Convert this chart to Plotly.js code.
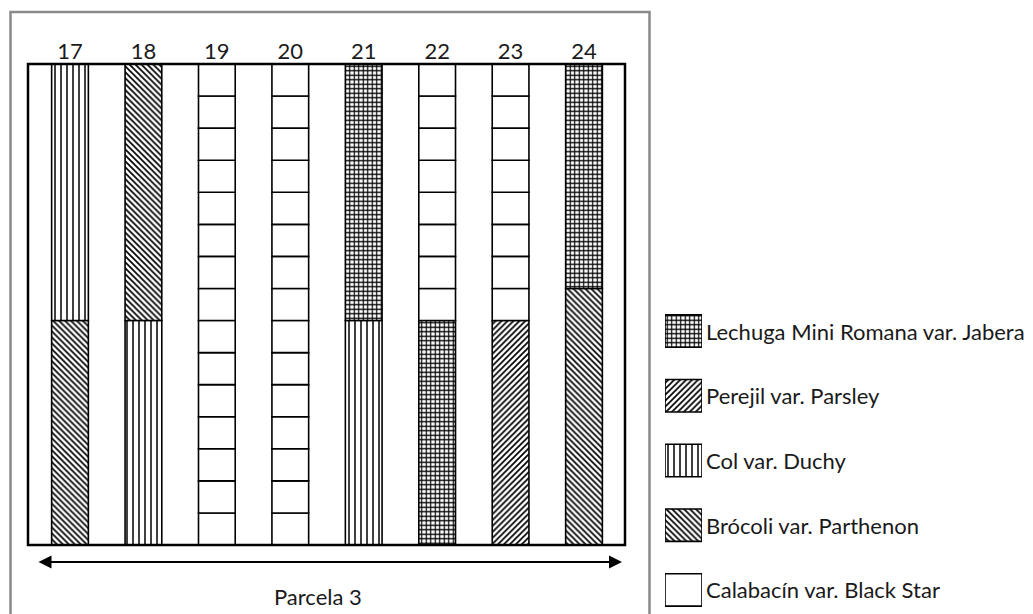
<!DOCTYPE html>
<html><head><meta charset="utf-8">
<script src="https://cdn.plot.ly/plotly-3.0.1.min.js"></script>
<style>html,body{margin:0;padding:0;background:#fff}#chart{width:1033px;height:614px}</style>
</head><body><div id="chart"></div>
<script>
// ---- data ----
const plots = ['17','18','19','20','21','22','23','24'];
const crops = ['Lechuga Mini Romana var. Jabera','Perejil var. Parsley','Col var. Duchy','Brócoli var. Parthenon','Calabacín var. Black Star'];
const lowerCrop = ['Brócoli var. Parthenon','Col var. Duchy','Calabacín var. Black Star','Calabacín var. Black Star','Col var. Duchy','Lechuga Mini Romana var. Jabera','Perejil var. Parsley','Brócoli var. Parthenon'];
const lowerRows = [7,7,15,15,7,7,7,8];
const upperCrop = ['Col var. Duchy','Brócoli var. Parthenon',null,null,'Lechuga Mini Romana var. Jabera','Calabacín var. Black Star','Calabacín var. Black Star','Lechuga Mini Romana var. Jabera'];
const upperRows = [8,8,0,0,8,8,8,7];
const plotTitle = 'Parcela 3';

// ---- styling ----
const W = 1033, H = 614;
const px = v => v / W, py = v => 1 - v / H;
const FONT = 'Lato, "Open Sans", sans-serif';
const FS = 22;
const style = {
  'Lechuga Mini Romana var. Jabera': {shape: '+', size: 4.5, sol: 0.45},
  'Perejil var. Parsley': {shape: '/', size: 4.2, sol: 0.4},
  'Col var. Duchy': {shape: '|', size: 6, sol: 0.25},
  'Brócoli var. Parthenon': {shape: '\\', size: 4.2, sol: 0.4},
  'Calabacín var. Black Star': {shape: '', size: 8, sol: 0.3}
};
const CELLED = 'Calabacín var. Black Star';

const sx = [], sy = [], sb = [], sShape = [], sSize = [], sSol = [];
plots.forEach((p, i) => {
  let base = 0;
  [[lowerCrop[i], lowerRows[i]], [upperCrop[i], upperRows[i]]].forEach(([c, n]) => {
    if (!c || !n) return;
    const parts = c === CELLED ? Array(n).fill(1) : [n];
    parts.forEach(h => {
      sx.push(p); sy.push(h); sb.push(base);
      sShape.push(style[c].shape); sSize.push(style[c].size); sSol.push(style[c].sol);
      base += h;
    });
  });
});

const mainTrace = {
  type: 'bar', x: sx, y: sy, base: sb, width: 0.5, xaxis: 'x', yaxis: 'y',
  hoverinfo: 'skip', showlegend: false,
  marker: {color: 'white', line: {color: 'black', width: 1.6},
    pattern: {shape: sShape, size: sSize, solidity: sSol, fgcolor: 'black', bgcolor: 'white', fillmode: 'replace'}}
};
const legTrace = {
  type: 'bar', orientation: 'h', y: crops, x: crops.map(() => 1), width: 0.5,
  xaxis: 'x2', yaxis: 'y2', hoverinfo: 'skip', showlegend: false,
  marker: {color: 'white', line: {color: 'black', width: 1.6},
    pattern: {shape: crops.map(c => style[c].shape), size: crops.map(c => style[c].size),
      solidity: crops.map(c => style[c].sol), fgcolor: 'black', bgcolor: 'white', fillmode: 'replace'}}
};

const x0 = 28, x1 = 625, c0 = 70, step = 73.43;
const layout = {
  width: W, height: H, margin: {l: 0, r: 0, t: 0, b: 0},
  paper_bgcolor: 'white', plot_bgcolor: 'rgba(0,0,0,0)',
  font: {family: FONT, size: FS, color: '#1a1a1a'},
  barmode: 'overlay', showlegend: false,
  xaxis: {domain: [px(x0), px(x1)], type: 'category', range: [(x0 - c0) / step, (x1 - c0) / step],
    side: 'top', ticks: '', showgrid: false, zeroline: false, showline: false, fixedrange: true,
    tickfont: {family: FONT, size: FS, color: '#1a1a1a'}},
  yaxis: {domain: [py(545), py(64)], range: [0, 15], visible: false, fixedrange: true},
  xaxis2: {domain: [px(665), px(702)], range: [0, 1], visible: false, anchor: 'y2', fixedrange: true},
  yaxis2: {domain: [0, py(300)], type: 'category', range: [4.371, -0.479], visible: false, anchor: 'x2', fixedrange: true},
  shapes: [
    {type: 'rect', xref: 'paper', yref: 'paper', x0: px(10.5), x1: px(649.5), y0: py(12), y1: -0.1,
      line: {color: '#8a8a8a', width: 2.5}, layer: 'below'},
    {type: 'rect', xref: 'paper', yref: 'paper', x0: px(x0), x1: px(x1), y0: py(64), y1: py(545),
      line: {color: 'black', width: 2.5}, layer: 'above'}
  ],
  annotations: [
    {xref: 'paper', yref: 'paper', x: px(622), y: py(562), ax: -585, ay: 0, axref: 'pixel', ayref: 'pixel',
      text: '', showarrow: true, arrowside: 'end+start', arrowhead: 2, startarrowhead: 2,
      arrowsize: 1.3, startarrowsize: 1.3, arrowwidth: 2, arrowcolor: 'black'},
    {xref: 'paper', yref: 'paper', x: px(318), y: py(596), xanchor: 'center', yanchor: 'middle',
      text: plotTitle, showarrow: false, font: {family: FONT, size: FS, color: '#1a1a1a'}}
  ].concat(crops.map(c => ({xref: 'x2', yref: 'y2', x: 1, y: c, text: c, showarrow: false,
      xanchor: 'left', yanchor: 'middle', xshift: 2, font: {family: FONT, size: FS, color: '#1a1a1a'}})))
};

Plotly.newPlot('chart', [mainTrace, legTrace], layout, {staticPlot: true, displayModeBar: false});
</script></body></html>
